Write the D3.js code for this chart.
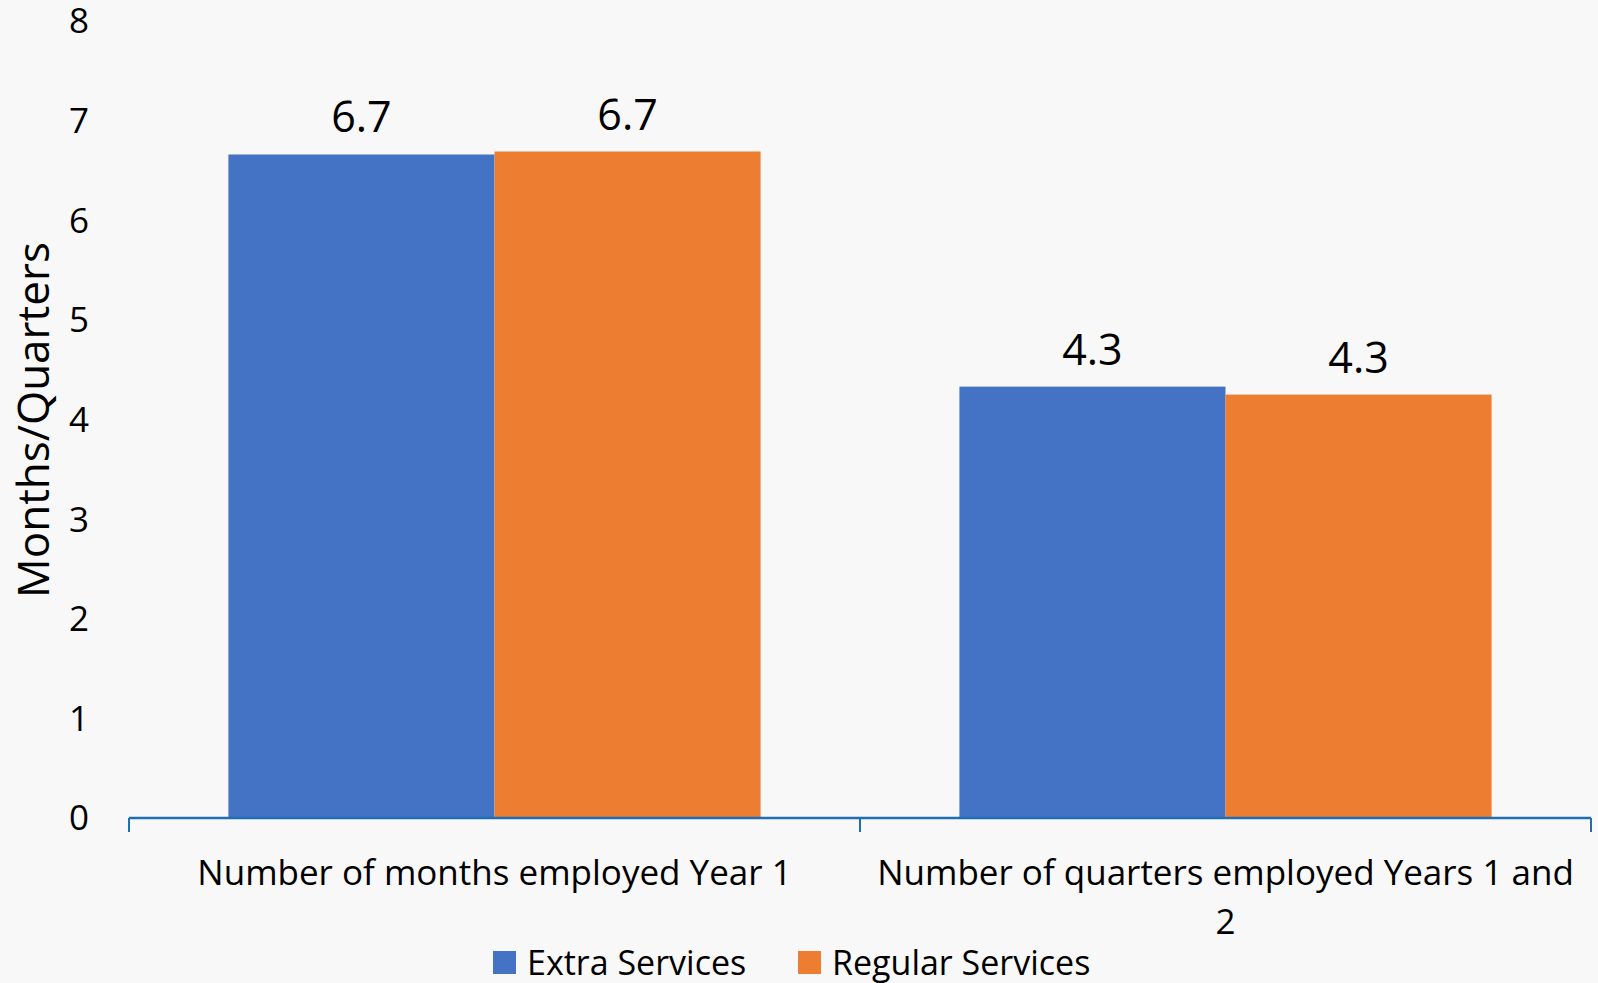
<!DOCTYPE html>
<html>
<head>
<meta charset="utf-8">
<script src="https://cdn.jsdelivr.net/npm/d3@7"></script>
<style>
  html, body { margin: 0; padding: 0; background: #f8f8f8; }
  svg { display: block; font-family: "Open Sans", "Noto Sans", sans-serif; }
</style>
</head>
<body>
<script>
const categories = ["Number of months employed Year 1", "Number of quarters employed Years 1 and 2"];
const seriesNames = ["Extra Services", "Regular Services"];
const extraServices = [6.66, 4.33];
const regularServices = [6.69, 4.25];
const valueLabels = [["6.7", "6.7"], ["4.3", "4.3"]];
const yTicks = [0, 1, 2, 3, 4, 5, 6, 7, 8];
const colors = ["#4472C4", "#ED7D31"];

const w = 1598, h = 983;
const marginLeft = 129, marginRight = 1591, marginTop = 21, baseY = 818;

const svg = d3.select("body").append("svg")
    .attr("width", w)
    .attr("height", h);

svg.append("rect").attr("width", w).attr("height", h).attr("fill", "#f8f8f8");

const x0 = d3.scaleBand()
    .domain(categories)
    .range([marginLeft, marginRight])
    .paddingInner(0.272)
    .paddingOuter(0.136);

const x1 = d3.scaleBand()
    .domain(seriesNames)
    .range([0, x0.bandwidth()]);

const y = d3.scaleLinear()
    .domain([0, 8])
    .range([baseY, marginTop]);

// y axis labels only
svg.append("g")
    .attr("transform", "translate(" + marginLeft + ",0)")
    .call(d3.axisLeft(y).tickValues(yTicks).tickSize(0).tickPadding(40))
    .call(g => g.select(".domain").remove())
    .selectAll("text")
    .attr("font-family", "Open Sans")
    .attr("font-size", 35)
    .attr("dy", "0.34em")
    .attr("fill", "#000");

svg.append("text")
    .attr("transform", "translate(34,420) rotate(-90)")
    .attr("text-anchor", "middle")
    .attr("dy", "0.35em")
    .attr("font-size", 44)
    .attr("fill", "#000")
    .text("Months/Quarters");

const rows = categories.map((c, i) => ({
    cat: c,
    vals: [
        { s: seriesNames[0], v: extraServices[i], label: valueLabels[i][0] },
        { s: seriesNames[1], v: regularServices[i], label: valueLabels[i][1] }
    ]
}));

const groups = svg.append("g").selectAll("g")
    .data(rows)
    .join("g")
    .attr("transform", d => "translate(" + x0(d.cat) + ",0)");

groups.selectAll("rect")
    .data(d => d.vals)
    .join("rect")
    .attr("x", d => x1(d.s))
    .attr("y", d => y(d.v))
    .attr("width", x1.bandwidth())
    .attr("height", d => y(0) - y(d.v))
    .attr("fill", (d, i) => colors[i]);

groups.selectAll("text.val")
    .data(d => d.vals)
    .join("text")
    .attr("class", "val")
    .attr("x", d => x1(d.s) + x1.bandwidth() / 2)
    .attr("y", d => y(d.v) - 22)
    .attr("text-anchor", "middle")
    .attr("font-size", 43)
    .attr("fill", "#000")
    .text(d => d.label);

// x axis with band-boundary ticks
const xAxis = svg.append("g").attr("transform", "translate(0," + baseY + ")");
xAxis.append("line")
    .attr("x1", marginLeft).attr("x2", marginRight)
    .attr("stroke", "#1f6db3").attr("stroke-width", 2.5);
const bounds = [marginLeft].concat(categories.map(c => x0(c) + x0.bandwidth() + x0.step() * x0.paddingOuter()));
xAxis.selectAll("line.tick")
    .data(bounds)
    .join("line")
    .attr("class", "tick")
    .attr("x1", d => d).attr("x2", d => d)
    .attr("y1", 0).attr("y2", 14)
    .attr("stroke", "#1f6db3").attr("stroke-width", 2);

function wrap(text, width) {
    text.each(function () {
        const t = d3.select(this);
        const words = t.text().split(/\s+/);
        const xPos = t.attr("x");
        t.text(null);
        let line = [];
        let tspan = t.append("tspan").attr("x", xPos).attr("dy", 0);
        words.forEach(word => {
            line.push(word);
            tspan.text(line.join(" "));
            if (tspan.node().getComputedTextLength() > width && line.length > 1) {
                line.pop();
                tspan.text(line.join(" "));
                line = [word];
                tspan = t.append("tspan").attr("x", xPos).attr("dy", 49).text(word);
            }
        });
    });
}

svg.append("g").selectAll("text")
    .data(categories)
    .join("text")
    .attr("x", d => x0(d) + x0.bandwidth() / 2)
    .attr("y", 885)
    .attr("text-anchor", "middle")
    .attr("font-size", 35)
    .attr("fill", "#000")
    .text(d => d)
    .call(wrap, 712);

// legend
const legend = svg.append("g").selectAll("g")
    .data(seriesNames)
    .join("g")
    .attr("transform", (d, i) => "translate(" + [493, 798][i] + ",951)");

legend.append("rect")
    .attr("width", 23).attr("height", 23)
    .attr("fill", (d, i) => colors[i]);

legend.append("text")
    .attr("x", 34).attr("y", 24)
    .attr("font-size", 34)
    .attr("fill", "#000")
    .text(d => d);
</script>
</body>
</html>
